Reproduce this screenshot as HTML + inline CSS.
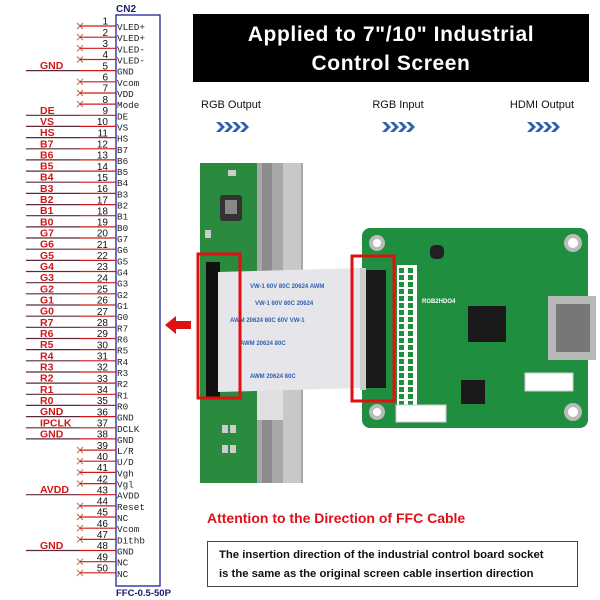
<!DOCTYPE html>
<html><head><meta charset="utf-8"><style>
html,body{margin:0;padding:0;background:#fff;width:600px;height:600px;overflow:hidden}
svg{display:block}
</style></head><body>
<svg id="s" width="600" height="600" viewBox="0 0 600 600" xmlns="http://www.w3.org/2000/svg" font-family="Liberation Sans, sans-serif">
<rect width="600" height="600" fill="#fff"/>
<text x="116" y="12" font-size="10" font-weight="bold" fill="#1a1a6e">CN2</text>
<rect x="116" y="15" width="44" height="571" fill="none" stroke="#2020a0" stroke-width="1.3"/>
<text x="116" y="596" font-size="9.5" font-weight="bold" fill="#1a1a6e">FFC-0.5-50P</text>
<g id="pins"></g>
<rect x="193" y="14" width="396" height="68" fill="#000"/>
<text x="391" y="41" font-size="21" font-weight="bold" fill="#fff" text-anchor="middle" letter-spacing="0.6">Applied to 7"/10" Industrial</text>
<text x="391" y="70" font-size="21" font-weight="bold" fill="#fff" text-anchor="middle" letter-spacing="0.6">Control Screen</text>
<text x="231" y="108" font-size="11" fill="#111" text-anchor="middle">RGB Output</text>
<text x="398" y="108" font-size="11" fill="#111" text-anchor="middle">RGB Input</text>
<text x="542" y="108" font-size="11" fill="#111" text-anchor="middle">HDMI Output</text>
<g fill="#2f5fb0">
<g transform="translate(216,122)"><path d="M0 0h4l5 5-5 5h-4l5-5z"/><path d="M8 0h4l5 5-5 5h-4l5-5z"/><path d="M16 0h4l5 5-5 5h-4l5-5z"/><path d="M24 0h4l5 5-5 5h-4l5-5z"/></g>
<g transform="translate(382,122)"><path d="M0 0h4l5 5-5 5h-4l5-5z"/><path d="M8 0h4l5 5-5 5h-4l5-5z"/><path d="M16 0h4l5 5-5 5h-4l5-5z"/><path d="M24 0h4l5 5-5 5h-4l5-5z"/></g>
<g transform="translate(527,122)"><path d="M0 0h4l5 5-5 5h-4l5-5z"/><path d="M8 0h4l5 5-5 5h-4l5-5z"/><path d="M16 0h4l5 5-5 5h-4l5-5z"/><path d="M24 0h4l5 5-5 5h-4l5-5z"/></g>
</g>
<!-- left board -->
<rect x="200" y="163" width="57" height="320" fill="#2a8a3e"/>
<rect x="257" y="163" width="46" height="320" fill="#a8a8a8"/>
<rect x="262" y="163" width="10" height="320" fill="#8c8c8c"/>
<rect x="283" y="163" width="18" height="320" fill="#c8c8c8"/>
<rect x="257" y="388" width="26" height="32" fill="#e0e0e0"/>
<rect x="220" y="195" width="22" height="26" rx="3" fill="#333"/>
<rect x="225" y="200" width="12" height="14" fill="#888"/>
<rect x="206" y="262" width="14" height="135" fill="#111"/>
<g fill="#ccc"><rect x="222" y="425" width="6" height="8"/><rect x="230" y="425" width="6" height="8"/><rect x="222" y="445" width="6" height="8"/><rect x="230" y="445" width="6" height="8"/><rect x="205" y="230" width="6" height="8"/><rect x="228" y="170" width="8" height="6"/></g>
<!-- right board -->
<rect x="362" y="228" width="226" height="200" rx="8" fill="#1f8f3f"/>
<circle cx="377" cy="243" r="8" fill="#bbb"/><circle cx="377" cy="243" r="4" fill="#fff"/>
<circle cx="573" cy="243" r="9" fill="#bbb"/><circle cx="573" cy="243" r="5" fill="#fff"/>
<circle cx="377" cy="412" r="8" fill="#bbb"/><circle cx="377" cy="412" r="4" fill="#fff"/>
<circle cx="573" cy="412" r="9" fill="#bbb"/><circle cx="573" cy="412" r="5" fill="#fff"/>
<rect x="397" y="265" width="20" height="142" fill="#fff"/>
<g id="hdr"></g>
<rect x="468" y="306" width="38" height="36" fill="#1a1a1a"/>
<rect x="461" y="380" width="24" height="24" fill="#1a1a1a"/>
<rect x="430" y="245" width="14" height="14" rx="5" fill="#222"/>
<rect x="548" y="296" width="48" height="64" fill="#b8b8b8"/>
<rect x="556" y="304" width="34" height="48" fill="#777"/>
<rect x="525" y="373" width="48" height="18" fill="#fff" stroke="#ccc"/>
<rect x="396" y="405" width="50" height="17" fill="#fff" stroke="#ccc"/>
<text x="422" y="303" font-size="6" fill="#fff" font-weight="bold">RGB2HDO4</text>
<!-- cable -->
<path d="M218 272 L362 268 L362 388 L218 392 Z" fill="#e6e6ea"/>
<g font-size="6" fill="#3060b0" font-weight="bold">
<text x="250" y="288">VW-1 60V 80C 20624 AWM</text>
<text x="255" y="305">VW-1 60V 80C 20624</text>
<text x="230" y="322">AWM 20624 80C 60V VW-1</text>
<text x="240" y="345">AWM 20624 80C</text>
<text x="250" y="378">AWM 20624 80C</text>
</g>
<rect x="364" y="270" width="22" height="118" fill="#1a1a1a"/>
<rect x="360" y="268" width="6" height="122" fill="#ccc"/>
<rect x="198" y="254" width="42" height="144" fill="none" stroke="#e01010" stroke-width="3"/>
<rect x="352" y="256" width="42" height="145" fill="none" stroke="#e01010" stroke-width="3"/>
<path d="M165 325 L176 316 L176 321 L191 321 L191 329 L176 329 L176 334 Z" fill="#e01010"/>
<text x="207" y="523" font-size="14" fill="#e0101a" font-weight="bold">Attention to the Direction of FFC Cable</text>
<rect x="207.5" y="541.5" width="370" height="45" fill="#fff" stroke="#444"/>
<text x="219" y="558" font-size="11.3" font-weight="bold" fill="#111">The insertion direction of the industrial control board socket</text>
<text x="219" y="577" font-size="11.3" font-weight="bold" fill="#111">is the same as the original screen cable insertion direction</text>
</svg>
<script>
var names=["VLED+","VLED+","VLED-","VLED-","GND","Vcom","VDD","Mode","DE","VS","HS","B7","B6","B5","B4","B3","B2","B1","B0","G7","G6","G5","G4","G3","G2","G1","G0","R7","R6","R5","R4","R3","R2","R1","R0","GND","DCLK","GND","L/R","U/D","Vgh","Vgl","AVDD","Reset","NC","Vcom","Dithb","GND","NC","NC"];
var sig={5:"GND",9:"DE",10:"VS",11:"HS",36:"GND",37:"IPCLK",38:"GND",43:"AVDD",48:"GND"};
var bl=["B7","B6","B5","B4","B3","B2","B1","B0","G7","G6","G5","G4","G3","G2","G1","G0","R7","R6","R5","R4","R3","R2","R1","R0"];
for(var i=0;i<24;i++)sig[12+i]=bl[i];
var h="";
for(var n=1;n<=50;n++){
 var y=(26+(n-1)*11.16).toFixed(1);
 if(sig[n]){
  h+='<line x1="26" y1="'+y+'" x2="80" y2="'+y+'" stroke="#5a2a3a" stroke-width="1.2"/>';
  h+='<text x="40" y="'+(y-1.5)+'" font-size="10.5" font-weight="bold" fill="#d01818">'+sig[n]+'</text>';
 } else {
  h+='<path d="M77 '+(y-3)+'l6 6M77 '+(+y+3)+'l6 -6" stroke="#b06040" stroke-width="0.9"/>';
 }
 h+='<line x1="80" y1="'+y+'" x2="116" y2="'+y+'" stroke="#d01818" stroke-width="1.2"/>';
 h+='<text x="108" y="'+(y-1.3)+'" font-size="10" fill="#111" text-anchor="end">'+n+'</text>';
 h+='<text x="117" y="'+(+y+4)+'" font-size="9.3" font-family="Liberation Mono, monospace" fill="#222">'+names[n-1]+'</text>';
}
document.getElementById("pins").innerHTML=h;
var g="";
for(var r=0;r<20;r++){for(var c=0;c<2;c++){g+='<rect x="'+(399+c*9)+'" y="'+(268+r*7)+'" width="5" height="5" fill="#1f8f3f"/>';}}
document.getElementById("hdr").innerHTML=g;
</script>
</body></html>
